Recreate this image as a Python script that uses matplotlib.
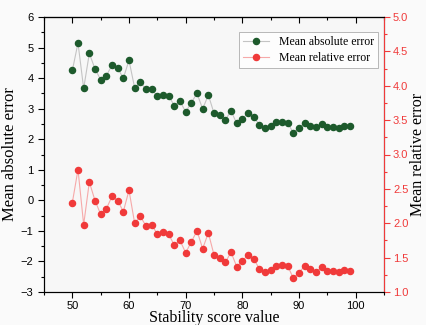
import matplotlib
matplotlib.use("Agg")
import matplotlib.pyplot as plt
from matplotlib.ticker import MultipleLocator

# ==== data ====
score = list(range(50, 100))

mae = [4.25, 5.15, 3.66, 4.81, 4.30, 3.95, 4.08, 4.42, 4.32, 4.00,
       4.58, 3.68, 3.87, 3.63, 3.65, 3.40, 3.46, 3.42, 3.10, 3.25,
       2.89, 3.20, 3.50, 2.99, 3.45, 2.85, 2.79, 2.63, 2.93, 2.52,
       2.67, 2.85, 2.72, 2.48, 2.38, 2.44, 2.55, 2.57, 2.53, 2.21,
       2.38, 2.53, 2.44, 2.39, 2.51, 2.41, 2.40, 2.38, 2.44, 2.42]

mre = [2.30, 2.78, 1.98, 2.60, 2.33, 2.13, 2.21, 2.39, 2.33, 2.17,
       2.48, 2.00, 2.10, 1.96, 1.98, 1.84, 1.87, 1.84, 1.68, 1.75,
       1.57, 1.73, 1.89, 1.63, 1.86, 1.54, 1.50, 1.43, 1.58, 1.37,
       1.45, 1.54, 1.48, 1.34, 1.29, 1.32, 1.38, 1.39, 1.38, 1.20,
       1.28, 1.38, 1.33, 1.29, 1.36, 1.31, 1.31, 1.29, 1.32, 1.31]

GREEN = "#1d5a2c"
RED = "#f03a3a"
SERIF = "Liberation Serif"
SANS = "Liberation Sans"

fig = plt.figure(figsize=(4.27, 3.25), dpi=100, facecolor="#fafafa")
ax = fig.add_axes([44 / 427, 1 - 292 / 325, 340 / 427, 275 / 325])
ax.set_facecolor("#f7f7f7")
ax2 = ax.twinx()

l1, = ax.plot(score, mae, color="#c4c4c4", lw=0.8, marker="o", ms=4.4,
              mfc=GREEN, mec=GREEN, label="Mean absolute error")
l2, = ax2.plot(score, mre, color="#f6a9a9", lw=0.8, marker="o", ms=4.4,
               mfc=RED, mec=RED, label="Mean relative error")

ax.set_xlim(45, 105)
ax.set_ylim(-3, 6)
ax2.set_ylim(1.0, 5.0)

ax.xaxis.set_major_locator(MultipleLocator(10))
ax.xaxis.set_minor_locator(MultipleLocator(5))
ax.yaxis.set_major_locator(MultipleLocator(1))
ax.yaxis.set_minor_locator(MultipleLocator(0.5))
ax2.yaxis.set_major_locator(MultipleLocator(0.5))
ax2.yaxis.set_minor_locator(MultipleLocator(0.25))
ax.set_xticks([50, 60, 70, 80, 90, 100])

# bottom / left ticks point out
ax.tick_params(axis="x", which="major", length=4, width=0.8, labelsize=8, pad=2.5)
ax.tick_params(axis="x", which="minor", length=2.5, width=0.8)
ax.tick_params(axis="y", which="major", length=4, width=0.8, labelsize=8)
ax.tick_params(axis="y", which="minor", length=2.5, width=0.8)
ax2.tick_params(axis="y", which="major", length=4, width=0.8, labelsize=8,
                colors=RED, pad=2.5)
ax2.tick_params(axis="y", which="minor", length=2.5, width=0.8, colors=RED)

# top ticks point in
top = ax.secondary_xaxis("top")
top.set_xticks([50, 60, 70, 80, 90, 100])
top.xaxis.set_minor_locator(MultipleLocator(5))
top.tick_params(which="major", direction="in", length=4, width=0.8,
                labeltop=False)
top.tick_params(which="minor", direction="in", length=2.5, width=0.8)
top.spines["top"].set_linewidth(0.8)

for lab in ax.get_xticklabels() + ax.get_yticklabels() + ax2.get_yticklabels():
    lab.set_family(SANS)
for a in (ax, ax2):
    for s in a.spines.values():
        s.set_linewidth(0.8)
ax2.spines["right"].set_color(RED)

ax.set_xlabel("Stability score value", family=SERIF, fontsize=11.5, labelpad=-1)
ax.set_ylabel("Mean absolute error", family=SERIF, fontsize=12, labelpad=2)
ax2.set_ylabel("Mean relative error", family=SERIF, fontsize=11.5, labelpad=1)

leg = ax.legend(handles=[l1, l2], loc="upper right",
                bbox_to_anchor=(0.982, 0.945), borderaxespad=0,
                prop={"family": SERIF, "size": 8.5},
                frameon=True, fancybox=False, edgecolor="#999999",
                handlelength=2.2, borderpad=0.35, labelspacing=0.3)
leg.get_frame().set_linewidth(0.6)

fig.savefig("out.png", dpi=100, facecolor=fig.get_facecolor())
